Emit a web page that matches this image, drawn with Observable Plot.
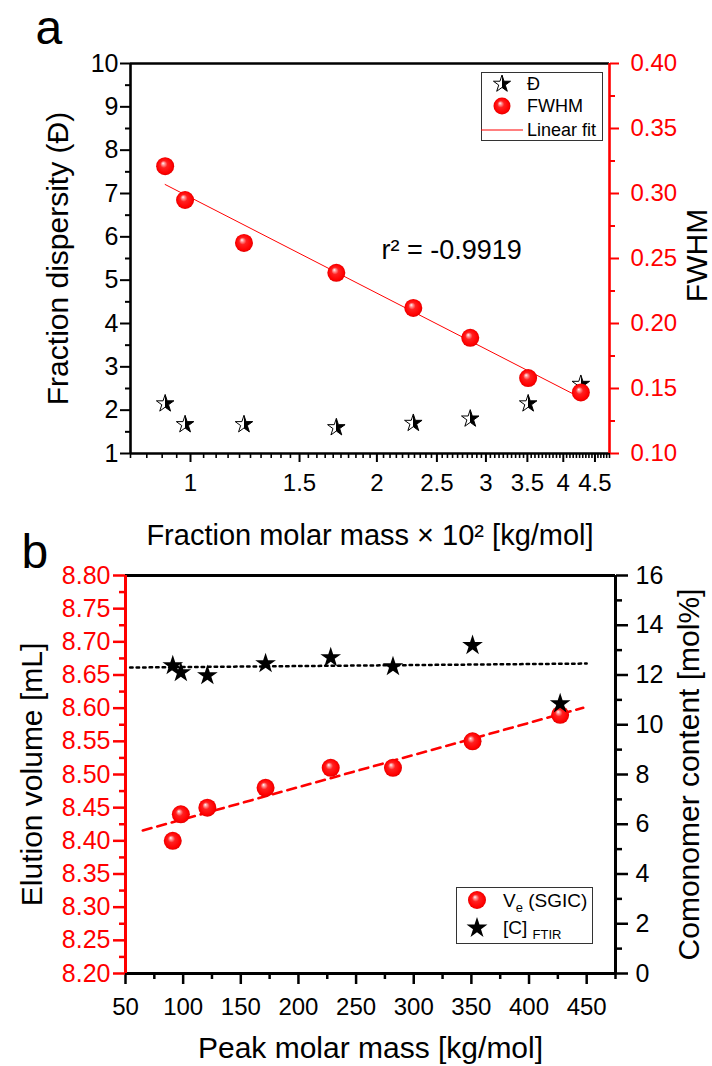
<!DOCTYPE html>
<html>
<head>
<meta charset="utf-8">
<script src="https://cdn.jsdelivr.net/npm/d3@7"></script>
<script src="https://cdn.jsdelivr.net/npm/@observablehq/plot@0.6"></script>
<style>
  body { margin: 0; background: #fff; }
  #wrap { position: relative; width: 712px; height: 1066px; overflow: hidden; background: #fff;
          font-family: "Liberation Sans", Arial, Helvetica, sans-serif; }
  #wrap svg { position: absolute; left: 0; }
</style>
</head>
<body>
<svg width="0" height="0" style="position:absolute">
  <defs>
    <radialGradient id="sphere" cx="0.5" cy="0.5" r="0.5" fx="0.38" fy="0.33">
      <stop offset="0" stop-color="#ffffff"/>
      <stop offset="0.12" stop-color="#ffb0b0"/>
      <stop offset="0.4" stop-color="#ff2020"/>
      <stop offset="0.85" stop-color="#ff0000"/>
      <stop offset="1" stop-color="#e00000"/>
    </radialGradient>
    <linearGradient id="halfStar" x1="0" x2="1" y1="0" y2="0">
      <stop offset="0.5" stop-color="#ffffff"/>
      <stop offset="0.5" stop-color="#000000"/>
    </linearGradient>
  </defs>
</svg>
<div id="wrap"></div>
<script>
// ---------------- Panel a data ----------------
const fractionMass = [0.91, 0.98, 1.22, 1.72, 2.29, 2.83, 3.51, 4.27];   // × 10^2 kg/mol
const dispersity   = [2.15, 1.67, 1.67, 1.60, 1.70, 1.80, 2.15, 2.60];
const fwhm         = [0.321, 0.295, 0.262, 0.239, 0.212, 0.189, 0.158, 0.147];
const r2Label      = "r² = -0.9919";
const xDomainA     = [0.8, 4.75];
const xTicksA      = [1, 1.5, 2, 2.5, 3, 3.5, 4, 4.5];
const yDomainDisp  = [1, 10];
const yTicksDisp   = [1, 2, 3, 4, 5, 6, 7, 8, 9, 10];
const yDomainFwhm  = [0.10, 0.40];
const yTicksFwhm   = [0.10, 0.15, 0.20, 0.25, 0.30, 0.35, 0.40];

// ---------------- Panel b data ----------------
const peakMass       = [91, 98, 121, 171.5, 228, 282, 351, 427];       // kg/mol
const elutionVolume  = [8.40, 8.44, 8.45, 8.48, 8.51, 8.51, 8.55, 8.59];
const comonomer      = [12.38, 12.10, 11.98, 12.46, 12.70, 12.34, 13.19, 10.85];
const veFitMass      = [65, 447];
const ftirFitMass    = [54, 450];
const ftirFitContent = [12.30, 12.46];
const xDomainB       = [50, 475];
const xTicksB        = [50, 100, 150, 200, 250, 300, 350, 400, 450];
const yDomainVe      = [8.20, 8.80];
const yTicksVe       = [8.20, 8.25, 8.30, 8.35, 8.40, 8.45, 8.50, 8.55, 8.60, 8.65, 8.70, 8.75, 8.80];
const yDomainC       = [0, 16];
const yTicksC        = [0, 2, 4, 6, 8, 10, 12, 14, 16];

// ---------------- helpers ----------------
const W = 712;
const FONT = '"Liberation Sans", Arial, Helvetica, sans-serif';
const RED = "#ff0000";
const wrap = document.getElementById("wrap");
const none = () => "";

function linreg(xs, ys) {
  const mx = d3.mean(xs), my = d3.mean(ys);
  let sxy = 0, sxx = 0;
  xs.forEach((x, i) => { sxy += (x - mx) * (ys[i] - my); sxx += (x - mx) ** 2; });
  const b = sxy / sxx;
  return {a: my - b * mx, b};
}
function layer(top, opts) {
  const el = Plot.plot({
    width: W,
    ...opts,
    style: {background: "transparent", fontFamily: FONT, overflow: "visible"}
  });
  el.style.top = top + "px";
  wrap.appendChild(el);
  return el;
}
const between = (ticks, lo, hi, step) =>
  d3.range(Math.round(lo / step), Math.round(hi / step) + 1)
    .map(k => +(k * step).toFixed(4))
    .filter(v => !ticks.some(t => Math.abs(t - v) < 1e-9));

// ---------------- Panel a ----------------
const idxA = d3.range(fractionMass.length);
const regA = linreg(fractionMass.map(Math.log10), fwhm);
const fitA = d3.extent(fractionMass).map(m => ({m, f: regA.a + regA.b * Math.log10(m)}));
const minorXA = between(xTicksA, xDomainA[0], xDomainA[1], 0.05);
const minorDisp = between(yTicksDisp, 1, 10, 0.5);
const minorFwhm = between(yTicksFwhm, 0.1, 0.4, 0.025);

const marginsA = {height: 560, marginLeft: 130, marginRight: 103, marginTop: 63, marginBottom: 107};

layer(0, {
  ...marginsA,
  x: {type: "log", domain: xDomainA},
  y: {domain: yDomainDisp},
  marks: [
    Plot.axisX({anchor: "bottom", ticks: minorXA, tickSize: 5, tickFormat: none, strokeWidth: 1.6, label: null}),
    Plot.axisX({anchor: "bottom", ticks: xTicksA, tickSize: 9, tickPadding: 11, tickFormat: d => String(d),
                fontSize: 24, strokeWidth: 2, label: null, color: "black"}),
    Plot.axisY({anchor: "left", ticks: minorDisp, tickSize: 5, tickFormat: none, strokeWidth: 2, label: null}),
    Plot.axisY({anchor: "left", ticks: yTicksDisp, tickSize: 10, tickPadding: 2, tickFormat: d => String(d),
                fontSize: 25, strokeWidth: 2, label: null, color: "black"}),
    Plot.ruleX([xDomainA[0]], {stroke: "black", strokeWidth: 2.6}),
    Plot.ruleY([yDomainDisp[0]], {stroke: "black", strokeWidth: 2.6}),
    Plot.ruleY([yDomainDisp[1]], {stroke: "black", strokeWidth: 2.6}),
    Plot.dot(idxA, {x: i => fractionMass[i], y: i => dispersity[i], symbol: "star", r: 5.5,
                    fill: "url(#halfStar)", stroke: "black", strokeWidth: 1}),
    Plot.text(["a"], {text: d => d, frameAnchor: "top-left", dx: -95, dy: -20, lineAnchor: "bottom",
                      textAnchor: "start", fontSize: 48, fill: "black"}),
    Plot.text(["Fraction dispersity (Đ)"], {text: d => d, frameAnchor: "left", dx: -63, rotate: -90,
                      lineAnchor: "bottom", textAnchor: "middle", fontSize: 30, fill: "black"}),
    Plot.text(["Fraction molar mass × 10² [kg/mol]"], {text: d => d, frameAnchor: "bottom", dy: 91,
                      lineAnchor: "bottom", textAnchor: "middle", fontSize: 29, fill: "black"})
  ]
});

layer(0, {
  ...marginsA,
  x: {type: "log", domain: xDomainA, axis: null},
  y: {domain: yDomainFwhm},
  marks: [
    Plot.axisY({anchor: "right", ticks: minorFwhm, tickSize: 5, tickFormat: none, stroke: RED, strokeWidth: 2, label: null}),
    Plot.axisY({anchor: "right", ticks: yTicksFwhm, tickSize: 9, tickPadding: 12, tickFormat: d3.format(".2f"),
                fontSize: 24, stroke: RED, fill: RED, color: RED, strokeWidth: 2, label: null}),
    Plot.ruleX([xDomainA[1]], {stroke: RED, strokeWidth: 2.6}),
    Plot.line(fitA, {x: "m", y: "f", stroke: RED, strokeWidth: 1}),
    Plot.dot(idxA, {x: i => fractionMass[i], y: i => fwhm[i], r: 9, fill: "url(#sphere)"}),
    Plot.text(["FWHM"], {text: d => d, frameAnchor: "right", dx: 97, dy: -3, rotate: -90,
                      lineAnchor: "bottom", textAnchor: "middle", fontSize: 30, fill: "black"}),
    Plot.text([r2Label], {text: d => d, frameAnchor: "top-left", dx: 251, dy: 195,
                      lineAnchor: "bottom", textAnchor: "start", fontSize: 27, fill: "black"})
  ]
});

// ---------------- Panel b ----------------
const idxB = d3.range(peakMass.length);
const regB = linreg(peakMass, elutionVolume);
const fitB = veFitMass.map(m => ({m, v: regB.a + regB.b * m}));
const fitC = ftirFitMass.map((m, i) => ({m, c: ftirFitContent[i]}));
const minorXB = between(xTicksB, 50, 475, 25);
const minorVe = between(yTicksVe, 8.2, 8.8, 0.025);
const minorC = between(yTicksC, 0, 16, 1);

const marginsB = {height: 546, marginLeft: 125, marginRight: 97, marginTop: 55, marginBottom: 93};

layer(520, {
  ...marginsB,
  x: {domain: xDomainB},
  y: {domain: yDomainVe},
  marks: [
    Plot.axisX({anchor: "bottom", ticks: minorXB, tickSize: 6, tickFormat: none, strokeWidth: 2.5, label: null}),
    Plot.axisX({anchor: "bottom", ticks: xTicksB, tickSize: 11, tickPadding: 13, tickFormat: d => String(d),
                fontSize: 24, strokeWidth: 2.5, label: null, color: "black"}),
    Plot.axisY({anchor: "left", ticks: minorVe, tickSize: 6, tickFormat: none, stroke: RED, strokeWidth: 2.5, label: null}),
    Plot.axisY({anchor: "left", ticks: yTicksVe, tickSize: 12, tickPadding: 3, tickFormat: d3.format(".2f"),
                fontSize: 25, stroke: RED, fill: RED, color: RED, strokeWidth: 2.5, label: null}),
    Plot.ruleY([yDomainVe[0]], {stroke: "black", strokeWidth: 3}),
    Plot.ruleY([yDomainVe[1]], {stroke: "black", strokeWidth: 3}),
    Plot.ruleX([xDomainB[0]], {stroke: RED, strokeWidth: 3}),
    Plot.line(fitB, {x: "m", y: "v", stroke: RED, strokeWidth: 2.6, strokeDasharray: "9,6"}),
    Plot.dot(idxB, {x: i => peakMass[i], y: i => elutionVolume[i], r: 9, fill: "url(#sphere)"}),
    Plot.text(["b"], {text: d => d, frameAnchor: "top-left", dx: -104, dy: -8, lineAnchor: "bottom",
                      textAnchor: "start", fontSize: 48, fill: "black"}),
    Plot.text(["Elution volume [mL]"], {text: d => d, frameAnchor: "left", dx: -84, rotate: -90,
                      lineAnchor: "bottom", textAnchor: "middle", fontSize: 30, fill: "black"}),
    Plot.text(["Peak molar mass [kg/mol]"], {text: d => d, frameAnchor: "bottom", dy: 84,
                      lineAnchor: "bottom", textAnchor: "middle", fontSize: 30, fill: "black"})
  ]
});

layer(520, {
  ...marginsB,
  x: {domain: xDomainB, axis: null},
  y: {domain: yDomainC},
  marks: [
    Plot.axisY({anchor: "right", ticks: minorC, tickSize: 6, tickFormat: none, stroke: "black", strokeWidth: 2.5, label: null}),
    Plot.axisY({anchor: "right", ticks: yTicksC, tickSize: 12, tickPadding: 8, tickFormat: d => String(d),
                fontSize: 25, stroke: "black", fill: "black", strokeWidth: 2.5, label: null}),
    Plot.ruleX([xDomainB[1]], {stroke: "black", strokeWidth: 3}),
    Plot.line(fitC, {x: "m", y: "c", stroke: "black", strokeWidth: 2.5, strokeDasharray: "2.5,4"}),
    Plot.dot(idxB, {x: i => peakMass[i], y: i => comonomer[i], symbol: "star", r: 6.5, fill: "black"}),
    Plot.text(["Comonomer content [mol%]"], {text: d => d, frameAnchor: "right", dx: 83, rotate: -90,
                      lineAnchor: "bottom", textAnchor: "middle", fontSize: 30, fill: "black"})
  ]
});

// ---------------- Legends ----------------
const starPath = (outer) => d3.symbol(d3.symbolStar, outer * outer / 0.8908)();
function legend(left, top, w, h) {
  const svg = d3.select(wrap).append("svg")
    .attr("width", w + 2).attr("height", h + 2)
    .style("left", left + "px").style("top", top + "px")
    .attr("font-family", FONT);
  svg.append("rect").attr("x", 0.5).attr("y", 0.5).attr("width", w).attr("height", h)
    .attr("fill", "white").attr("stroke", "#333").attr("stroke-width", 1);
  return svg;
}
// legend a
{
  const g = legend(481, 72, 121, 68);
  g.append("path").attr("d", starPath(9)).attr("transform", "translate(21,12)")
    .attr("fill", "url(#halfStar)").attr("stroke", "black").attr("stroke-width", 1);
  g.append("text").attr("x", 46).attr("y", 18).attr("font-size", 18).text("Đ");
  g.append("circle").attr("cx", 21).attr("cy", 34).attr("r", 8.5).attr("fill", "url(#sphere)");
  g.append("text").attr("x", 46).attr("y", 40).attr("font-size", 18).text("FWHM");
  g.append("line").attr("x1", 0).attr("x2", 42).attr("y1", 58).attr("y2", 58)
    .attr("stroke", RED).attr("stroke-width", 1);
  g.append("text").attr("x", 46).attr("y", 64).attr("font-size", 18).text("Linear fit");
}
// legend b
{
  const g = legend(456, 887, 136, 56);
  g.append("circle").attr("cx", 21).attr("cy", 13).attr("r", 9).attr("fill", "url(#sphere)");
  const t1 = g.append("text").attr("x", 47).attr("y", 20).attr("font-size", 19);
  t1.append("tspan").text("V");
  t1.append("tspan").attr("font-size", 13).attr("dy", 5).text("e");
  t1.append("tspan").attr("dy", -5).text(" (SGIC)");
  g.append("path").attr("d", starPath(11)).attr("transform", "translate(21,41)").attr("fill", "black");
  const t2 = g.append("text").attr("x", 47).attr("y", 47).attr("font-size", 19);
  t2.append("tspan").text("[C] ");
  t2.append("tspan").attr("font-size", 13).attr("dy", 5).text("FTIR");
}
</script>
</body>
</html>
